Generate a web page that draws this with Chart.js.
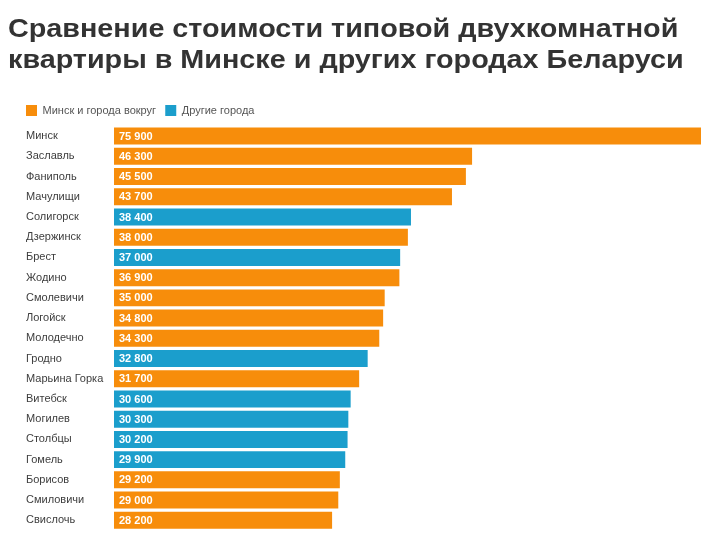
<!DOCTYPE html>
<html lang="ru">
  <head>
    <meta charset="UTF-8" />
    <title>Стоимость двухкомнатной квартиры</title>
    <script src="https://cdn.jsdelivr.net/npm/chart.js"></script>
    <style>
      body { margin: 0; background: #fff; }
      #wrap { position: relative; width: 720px; height: 540px; }
      #title {
        position: absolute; left: 8px; top: 13px; margin: 0;
        font: bold 25px "Liberation Sans", Arial, sans-serif;
        line-height: 31px; color: #333; white-space: nowrap;
        transform: scaleX(1.15); transform-origin: left top;
      }
      canvas { position: absolute; left: 0; top: 0; }
    </style>
  </head>
  <body>
    <div id="wrap">
      <canvas id="priceChart" width="720" height="540"></canvas>
      <h1 id="title">Сравнение стоимости типовой двухкомнатной<br />квартиры в Минске и других городах Беларуси</h1>
    </div>
    <script>
      const cities = [
        "Минск", "Заславль", "Фаниполь", "Мачулищи", "Солигорск", "Дзержинск",
        "Брест", "Жодино", "Смолевичи", "Логойск", "Молодечно", "Гродно",
        "Марьина Горка", "Витебск", "Могилев", "Столбцы", "Гомель", "Борисов",
        "Смиловичи", "Свислочь",
      ];
      const prices = [
        75900, 46300, 45500, 43700, 38400, 38000, 37000, 36900, 35000, 34800,
        34300, 32800, 31700, 30600, 30300, 30200, 29900, 29200, 29000, 28200,
      ];
      // true = Минск и города вокруг, false = другие города
      const nearMinsk = [
        true, true, true, true, false, true, false, true, true, true,
        true, false, true, false, false, false, false, true, true, true,
      ];
      const seriesNames = ["Минск и города вокруг", "Другие города"];

      const orange = "#f78d0b";
      const blue = "#1b9ecc";

      const fmt = (v) => String(v).replace(/\B(?=(\d{3})+(?!\d))/g, " ");

      const valueLabels = {
        id: "valueLabels",
        afterDatasetsDraw(chart) {
          const ctx = chart.ctx;
          ctx.save();
          ctx.font = "bold 11px 'Liberation Sans', Arial, sans-serif";
          ctx.fillStyle = "#fff";
          ctx.textAlign = "left";
          ctx.textBaseline = "middle";
          chart.data.datasets.forEach((ds, i) => {
            chart.getDatasetMeta(i).data.forEach((bar, j) => {
              if (ds.data[j] == null) return;
              ctx.fillText(fmt(ds.data[j]), bar.base + 5, bar.y + 0.5);
            });
          });
          ctx.restore();
        },
      };

      new Chart(document.getElementById("priceChart"), {
        type: "bar",
        data: {
          labels: cities,
          datasets: [
            {
              label: seriesNames[0],
              data: prices.map((p, i) => (nearMinsk[i] ? p : null)),
              backgroundColor: orange,
            },
            {
              label: seriesNames[1],
              data: prices.map((p, i) => (nearMinsk[i] ? null : p)),
              backgroundColor: blue,
            },
          ],
        },
        options: {
          indexAxis: "y",
          responsive: false,
          animation: false,
          barPercentage: 0.84,
          categoryPercentage: 1,
          layout: { padding: { left: 26, right: 19, top: 105, bottom: 7 } },
          scales: {
            x: { display: false, stacked: true, min: 0, max: 75900 },
            y: {
              stacked: true,
              grid: { display: false },
              border: { display: false },
              ticks: {
                crossAlign: "far",
                color: "#3d3d3d",
                font: { family: "'Liberation Sans', Arial, sans-serif", size: 11 },
              },
              afterFit: (scale) => { scale.width = 88; },
            },
          },
          plugins: {
            legend: {
              position: "top",
              align: "start",
              labels: {
                padding: 0,
                boxWidth: 11,
                boxHeight: 11,
                color: "#555",
                font: { family: "'Liberation Sans', Arial, sans-serif", size: 11 },
                generateLabels(chart) {
                  const items = Chart.defaults.plugins.legend.labels.generateLabels(chart);
                  items.forEach((it) => { it.text += "   "; it.lineWidth = 0; });
                  return items;
                },
              },
            },
            tooltip: { enabled: false },
          },
        },
        plugins: [valueLabels],
      });
    </script>
  </body>
</html>
